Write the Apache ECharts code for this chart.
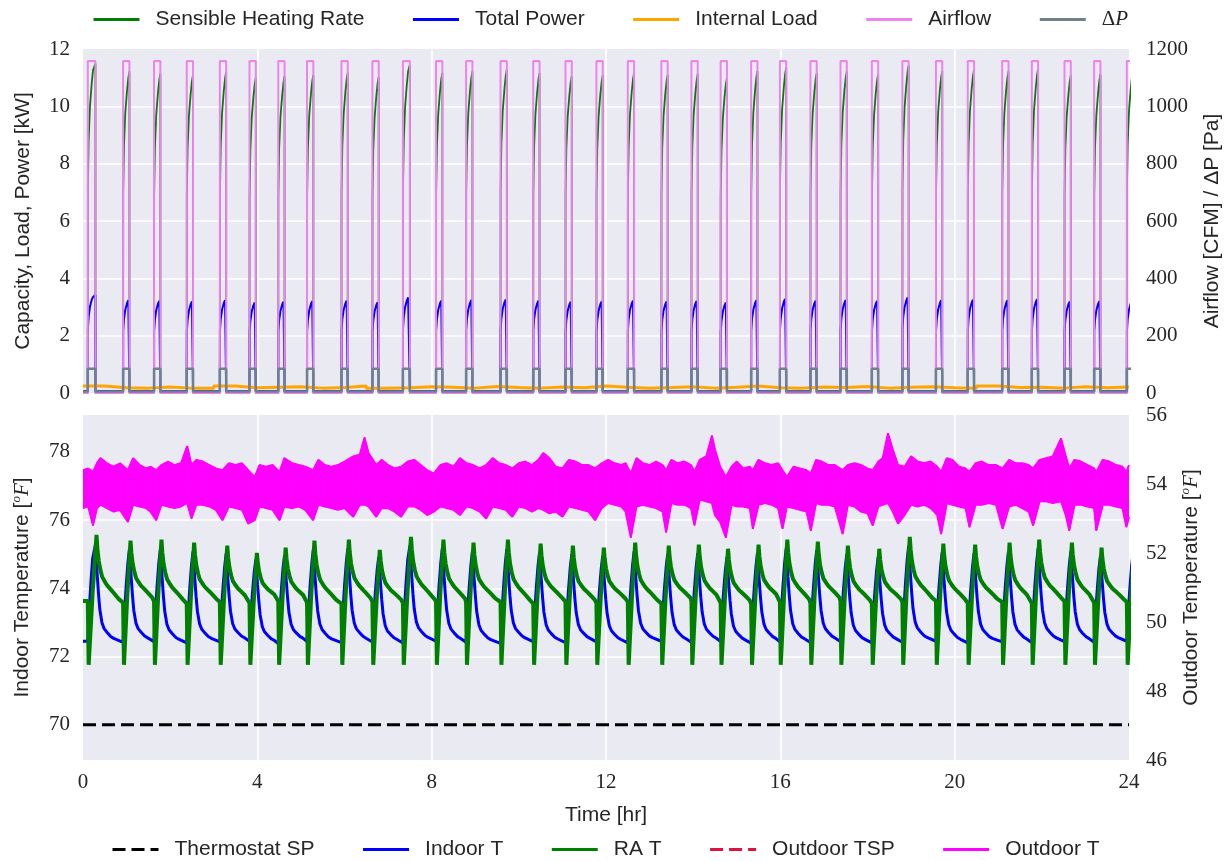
<!DOCTYPE html>
<html>
<head>
<meta charset="utf-8">
<script src="https://cdn.jsdelivr.net/npm/echarts@6/dist/echarts.min.js"></script>
<style>html,body{margin:0;padding:0;background:#fff}#chart{width:1231px;height:861px}</style>
</head>
<body>
<div id="chart"></div>
<script>
// ================= DATA =================
const hourTicks = [0, 4, 8, 12, 16, 20, 24];
const indoorTicks = [70, 72, 74, 76, 78];

// compressor/fan cycles: start time [hr], on duration [hr]
const cycleStart = [0.11,0.92,1.63,2.38,3.14,3.82,4.48,5.14,5.93,6.64,7.34,8.10,8.79,9.58,10.33,11.07,11.78,
                    12.50,13.27,13.96,14.63,15.33,15.99,16.69,17.38,18.10,18.80,19.57,20.30,21.09,21.77,22.52,23.20,23.95];
const cycleOn = [0.175,0.145,0.145,0.145,0.145,0.145,0.145,0.145,0.145,0.145,0.16,0.145,0.145,0.145,0.145,0.145,0.145,
                 0.145,0.145,0.145,0.145,0.145,0.145,0.145,0.145,0.145,0.145,0.145,0.145,0.145,0.145,0.145,0.145,0.145];
// peak values per cycle
const shrPeak = [11.49,11.22,11.14,11.10,11.20,10.99,11.05,11.10,11.17,11.02,11.45,11.17,11.22,11.29,11.16,11.06,11.08,
                 11.17,11.10,11.13,10.99,11.23,11.35,11.16,11.22,11.13,11.43,11.23,11.28,11.22,11.31,11.08,11.12,11.30];
const powerPeak = [3.42,3.30,3.28,3.26,3.30,3.22,3.25,3.27,3.29,3.23,3.40,3.29,3.31,3.33,3.29,3.25,3.26,
                   3.29,3.26,3.28,3.22,3.30,3.35,3.29,3.31,3.28,3.40,3.30,3.32,3.30,3.34,3.26,3.27,3.30];
const powerOff = 0.07;          // kW between cycles
const airflowOn = 1158;         // CFM
const dpOn = 85, dpOff = 5;     // Pa
// shape of the rise during the on-period: [hours after start, fraction of peak]
const shrShape = [[0.002,0.62],[0.02,0.77],[0.05,0.87],[0.09,0.94],[0.12,0.98]];
const powerShape = [[0.002,0.66],[0.02,0.78],[0.05,0.88],[0.09,0.95],[0.12,0.98]];

// internal load, every 0.5 h from 0 to 24 [kW]
const loadTime = [0,0.5,1,1.5,2,2.5,3,3.5,4,4.5,5,5.5,6,6.5,7,7.5,8,8.5,9,9.5,10,10.5,11,11.5,12,
                  12.5,13,13.5,14,14.5,15,15.5,16,16.5,17,17.5,18,18.5,19,19.5,20,20.5,21,21.5,22,22.5,23,23.5,24];
const loadKW = [0.24,0.18,0.17,0.21,0.17,0.17,0.24,0.18,0.20,0.22,0.17,0.19,0.24,0.17,0.18,0.22,0.20,0.17,0.23,0.19,0.17,0.21,0.18,0.24,0.20,
                0.17,0.19,0.22,0.17,0.20,0.24,0.18,0.17,0.21,0.19,0.23,0.17,0.20,0.22,0.18,0.17,0.24,0.19,0.20,0.17,0.22,0.18,0.21,0.20];

// indoor / return-air temperatures per cycle [F]
const indoorLow = [72.45,72.42,72.44,72.40,72.43,72.45,72.38,72.44,72.41,72.43,72.40,72.45,72.42,72.39,72.44,72.41,72.43,
                   72.40,72.45,72.42,72.44,72.39,72.43,72.41,72.44,72.40,72.42,72.45,72.40,72.43,72.41,72.44,72.42,72.45];
const indoorPeak = [75.28,75.15,75.15,75.08,75.02,74.85,74.98,75.14,75.16,74.92,75.25,75.17,75.08,75.16,75.05,75.00,74.95,
                    75.08,75.00,75.03,74.92,75.03,75.17,75.12,75.00,74.92,75.25,75.06,75.03,75.08,75.17,75.08,74.95,75.05];
const raLow = [73.63,73.58,73.62,73.55,73.60,73.57,73.62,73.58,73.55,73.60,73.56,73.63,73.58,73.60,73.55,73.61,73.57,
               73.60,73.56,73.62,73.58,73.55,73.60,73.57,73.62,73.56,73.59,73.63,73.57,73.60,73.56,73.62,73.58,73.60];
const raPeak = [75.57,75.40,75.43,75.34,75.25,75.04,75.19,75.40,75.43,75.13,75.51,75.43,75.34,75.43,75.31,75.25,75.19,
                75.34,75.25,75.28,75.16,75.28,75.43,75.37,75.25,75.16,75.51,75.31,75.28,75.34,75.43,75.34,75.19,75.30];
const raMin = 71.76;
const raDropLag = 0.02, raPeakLag = 0.025;
// shapes: [hours, fraction]
const indoorRise = [[0.03,0.30],[0.07,0.60],[0.11,0.85]];
const indoorDecay = [[0.02,0.85],[0.04,0.70],[0.07,0.50],[0.10,0.34],[0.15,0.20],[0.20,0.14],[0.27,0.10],[0.35,0.06],[0.42,0.04]];
const raRise = [[0.5,0.55]];
const raDecay = [[0.02,0.80],[0.05,0.62],[0.09,0.48],[0.13,0.38],[0.20,0.30],[0.25,0.25],[0.32,0.20],[0.40,0.14],[0.50,0.06]];

const thermostatSP = [[0,70],[24,70]];
const outdoorTSP = [[0,54],[24,54]];
// outdoor temperature noise band: [hr, upper F, lower F]
const outdoorTBand = [
[0.00,54.40,53.30],[0.12,54.45,53.35],[0.23,54.35,52.80],[0.32,54.60,53.30],[0.40,54.75,53.40],[0.55,54.60,53.30],[0.70,54.50,53.20],[0.85,54.60,53.25],
[1.03,54.40,52.90],[1.15,54.75,53.40],[1.30,54.55,53.35],[1.45,54.45,53.30],[1.55,54.50,53.20],[1.68,54.40,52.95],[1.80,54.55,53.40],[1.95,54.65,53.35],
[2.10,54.55,53.30],[2.25,54.60,53.35],[2.39,55.10,53.45],[2.49,54.55,53.00],[2.60,54.70,53.40],[2.75,54.65,53.40],[2.90,54.55,53.35],[3.05,54.45,53.25],
[3.20,54.40,52.95],[3.35,54.60,53.35],[3.50,54.55,53.30],[3.65,54.60,53.25],[3.79,54.40,52.85],[3.94,54.20,52.95],[4.05,54.55,53.35],[4.20,54.50,53.30],
[4.35,54.55,53.25],[4.51,54.35,52.95],[4.62,54.75,53.35],[4.80,54.60,53.30],[4.95,54.55,53.35],[5.10,54.50,53.25],[5.28,54.40,52.95],[5.40,54.70,53.40],
[5.55,54.55,53.35],[5.70,54.50,53.30],[5.85,54.55,53.25],[6.00,54.65,53.30],[6.20,54.80,53.05],[6.35,54.85,53.40],[6.46,55.35,53.40],[6.55,54.90,53.35],
[6.73,54.55,53.05],[6.85,54.70,53.30],[7.00,54.55,53.30],[7.15,54.45,53.20],[7.30,54.50,53.05],[7.45,54.65,53.35],[7.60,54.70,53.35],[7.75,54.55,53.25],
[7.90,54.40,53.10],[8.05,54.30,53.20],[8.20,54.55,53.35],[8.35,54.60,53.30],[8.50,54.50,53.25],[8.65,54.75,53.10],[8.80,54.60,53.35],[8.95,54.55,53.30],
[9.10,54.45,53.20],[9.25,54.55,53.00],[9.40,54.75,53.35],[9.55,54.60,53.30],[9.70,54.55,53.25],[9.85,54.45,53.05],[10.00,54.60,53.35],[10.15,54.65,53.30],
[10.30,54.55,53.20],[10.45,54.70,53.30],[10.56,54.90,53.25],[10.70,54.75,53.15],[10.85,54.50,53.20],[11.00,54.45,53.05],[11.15,54.70,53.35],[11.30,54.65,53.30],
[11.45,54.55,53.25],[11.60,54.55,53.20],[11.75,54.45,52.95],[11.90,54.60,53.30],
[12.05,54.70,53.45],[12.20,54.60,53.40],[12.35,54.55,53.35],[12.45,54.60,53.20],[12.57,54.30,52.45],[12.70,54.75,53.35],[12.85,54.60,53.40],[13.00,54.55,53.35],
[13.15,54.65,53.30],[13.30,54.55,53.20],[13.38,54.40,52.60],[13.50,54.70,53.45],[13.65,54.60,53.40],[13.80,54.65,53.40],[13.95,54.55,53.30],[14.03,54.35,52.80],
[14.15,54.70,53.55],[14.30,54.80,53.50],[14.43,55.40,53.45],[14.50,55.00,53.10],[14.62,54.50,52.90],[14.75,54.20,52.45],[14.88,54.50,53.40],[15.00,54.65,53.35],
[15.15,54.45,53.35],[15.30,54.50,53.30],[15.37,54.40,52.70],[15.50,54.70,53.40],[15.65,54.60,53.45],[15.80,54.55,53.40],[15.95,54.60,53.30],[16.05,54.40,52.70],
[16.15,54.20,53.35],[16.30,54.50,53.30],[16.45,54.45,53.25],[16.60,54.40,53.20],[16.70,54.30,52.65],[16.82,54.70,53.45],[16.95,54.65,53.40],[17.10,54.55,53.40],
[17.25,54.55,53.35],[17.43,54.40,52.55],[17.55,54.55,53.40],[17.70,54.60,53.35],[17.85,54.55,53.20],[18.00,54.45,53.15],[18.12,54.40,52.80],[18.25,54.65,53.35],
[18.35,54.75,53.40],[18.47,55.47,53.45],[18.58,55.00,53.20],[18.70,54.55,52.85],[18.85,54.50,53.10],[19.00,54.80,53.40],[19.15,54.65,53.35],[19.30,54.60,53.40],
[19.45,54.65,53.30],[19.60,54.50,53.10],[19.69,54.35,52.55],[19.82,54.75,53.45],[19.95,54.70,53.40],[20.10,54.50,53.35],[20.25,54.45,53.30],[20.34,54.35,52.75],
[20.48,54.60,53.40],[20.62,54.65,53.40],[20.78,54.55,53.45],[20.95,54.55,53.40],[21.10,54.45,52.70],[21.25,54.70,53.35],[21.40,54.60,53.40],[21.55,54.60,53.30],
[21.70,54.55,53.20],[21.80,54.45,52.80],[21.95,54.70,53.50],[22.10,54.75,53.50],[22.25,54.80,53.45],[22.44,55.32,53.50],[22.55,54.80,53.10],[22.63,54.45,52.65],
[22.75,54.70,53.40],[22.90,54.65,53.40],[23.05,54.55,53.35],[23.20,54.45,53.30],[23.25,54.35,52.65],[23.40,54.70,53.40],[23.55,54.65,53.40],[23.70,54.55,53.35],
[23.85,54.50,53.30],[23.94,54.35,52.75],[24.00,54.55,53.05]
];

// ================= BUILD SERIES DATA =================
const N = cycleStart.length;
function nextStart(i){ return i + 1 < N ? cycleStart[i+1] : 30; }

function buildPulse(shape, peaks, off){
  const pts = [[0, off]];
  cycleStart.forEach((s, i) => {
    const d = cycleOn[i], p = peaks[i];
    pts.push([s, off]);
    shape.forEach(([tau, f]) => { if (tau < d) pts.push([s + tau, p * f]); });
    pts.push([s + d, p]);
    pts.push([s + d, off]);
  });
  return pts;
}
function buildRect(on, off){
  const pts = [[0, off]];
  cycleStart.forEach((s, i) => {
    const d = cycleOn[i];
    pts.push([s, off], [s, on], [s + d, on], [s + d, off]);
  });
  return pts;
}
function buildIndoor(){
  const pts = [[0, indoorLow[0]]];
  cycleStart.forEach((s, i) => {
    const d = cycleOn[i], low = indoorLow[i], pk = indoorPeak[i];
    const nx = nextStart(i), lowN = i + 1 < N ? indoorLow[i+1] : low;
    pts.push([s, low]);
    indoorRise.forEach(([tau, f]) => { if (tau < d) pts.push([s + tau, low + (pk - low) * f]); });
    pts.push([s + d, pk]);
    indoorDecay.forEach(([tau, f]) => { if (s + d + tau < nx - 0.01) pts.push([s + d + tau, lowN + (pk - lowN) * f]); });
  });
  return pts;
}
function buildRA(){
  const pts = [[0, raLow[0]]];
  cycleStart.forEach((s, i) => {
    const d = cycleOn[i], low = raLow[i], pk = raPeak[i];
    const nx = nextStart(i), lowN = i + 1 < N ? raLow[i+1] : low;
    const tMin = s + raDropLag, tPk = s + d + raPeakLag;
    pts.push([s, low], [tMin, raMin]);
    raRise.forEach(([f, v]) => pts.push([tMin + (tPk - tMin) * f, raMin + (pk - raMin) * v]));
    pts.push([tPk, pk]);
    raDecay.forEach(([tau, f]) => { if (tPk + tau < nx - 0.01) pts.push([tPk + tau, lowN + (pk - lowN) * f]); });
  });
  return pts;
}

// ================= CHART =================
const SANS = 'Liberation Sans', SERIF = 'Liberation Serif', TXT = '#262626', BG = '#EAEAF2';
const tickFont = { fontFamily: SERIF, fontSize: 21, color: TXT };
const nameFont = { fontFamily: SANS, fontSize: 21, color: TXT };
const supRich = {
  s: { fontFamily: SERIF, fontStyle: 'italic', fontSize: 13, color: TXT, verticalAlign: 'top', lineHeight: 24 },
  i: { fontFamily: SERIF, fontStyle: 'italic', fontSize: 21, color: TXT, lineHeight: 24 }
};
const whiteSplit = { show: true, showMinLine: false, showMaxLine: false, lineStyle: { color: '#ffffff', width: 1.6 } };
const plainNum = v => String(v);

function line(name, xi, yi, data, color, width, extra){
  return Object.assign({
    name, type: 'line', xAxisIndex: xi, yAxisIndex: yi, data,
    symbol: 'none', showSymbol: false, silent: true, clip: true,
    lineStyle: { color, width }, itemStyle: { color }
  }, extra || {});
}

const loadData = loadTime.map((t, k) => [t, loadKW[k]]);
const bandHigh = outdoorTBand.map(r => [r[0], r[1]]);
const bandLow = outdoorTBand.map(r => [r[0], r[2]]);
const bandSegs = outdoorTBand.slice(0, -1).map((r, k) => {
  const q = outdoorTBand[k + 1];
  return [r[0], r[1], r[2], q[0], q[1], q[2]];
});

const legendCommon = {
  orient: 'horizontal', itemWidth: 46, itemHeight: 14, itemGap: 47, padding: 0,
  textStyle: { fontFamily: SANS, fontSize: 21, color: TXT, padding: [0, 0, 0, 11],
    rich: { d: { fontFamily: SERIF, fontSize: 21, color: TXT }, p: { fontFamily: SERIF, fontStyle: 'italic', fontSize: 21, color: TXT } } },
  lineStyle: { width: 3 },
  itemStyle: { opacity: 0 },
  selectedMode: false
};

const chart = echarts.init(document.getElementById('chart'), null, { renderer: 'canvas' });
chart.setOption({
  animation: false,
  backgroundColor: '#ffffff',
  grid: [
    { left: 83, right: 102, top: 49, height: 344, show: true, backgroundColor: BG, borderWidth: 0, outerBoundsMode: 'none' },
    { left: 83, right: 102, top: 415, height: 345, show: true, backgroundColor: BG, borderWidth: 0, outerBoundsMode: 'none' }
  ],
  legend: [
    Object.assign({}, legendCommon, { top: 9, left: 92,
      data: ['Sensible Heating Rate', 'Total Power', 'Internal Load', 'Airflow', 'ΔP'],
      formatter: n => n === 'ΔP' ? '{d|Δ}{p|P}' : n }),
    Object.assign({}, legendCommon, { top: 839, left: 111,
      data: ['Thermostat SP', 'Indoor T', 'RA T', 'Outdoor TSP', 'Outdoor T'] })
  ],
  xAxis: [
    { gridIndex: 0, type: 'value', min: hourTicks[0], max: hourTicks[hourTicks.length-1], interval: 4,
      axisLine: { show: false }, axisTick: { show: false }, axisLabel: { show: false }, splitLine: whiteSplit },
    { gridIndex: 1, type: 'value', min: hourTicks[0], max: hourTicks[hourTicks.length-1], interval: 4,
      axisLine: { show: false }, axisTick: { show: false },
      axisLabel: Object.assign({ margin: 12, formatter: plainNum }, tickFont), splitLine: whiteSplit,
      name: 'Time [hr]', nameLocation: 'middle', nameGap: 45, nameTextStyle: nameFont }
  ],
  yAxis: [
    { gridIndex: 0, type: 'value', position: 'left', min: 0, max: 12, interval: 2,
      axisLine: { show: false }, axisTick: { show: false }, axisLabel: Object.assign({ margin: 13, formatter: plainNum }, tickFont),
      splitLine: whiteSplit,
      name: 'Capacity, Load, Power [kW]', nameLocation: 'middle', nameGap: 49, nameTextStyle: nameFont },
    { gridIndex: 0, type: 'value', position: 'right', min: 0, max: 1200, interval: 200,
      axisLine: { show: false }, axisTick: { show: false }, axisLabel: Object.assign({ margin: 17, formatter: plainNum }, tickFont),
      splitLine: { show: false },
      name: 'Airflow [CFM] / ΔP [Pa]', nameLocation: 'middle', nameGap: 73, nameTextStyle: nameFont },
    { gridIndex: 1, type: 'value', position: 'left', min: 68.97, max: 79.08,
      axisLine: { show: false }, axisTick: { show: false, customValues: indoorTicks },
      axisLabel: Object.assign({ margin: 13, customValues: indoorTicks, formatter: plainNum }, tickFont),
      splitLine: whiteSplit,
      name: 'Indoor Temperature [{s|o}{i|F}]', nameLocation: 'middle', nameGap: 49,
      nameTextStyle: Object.assign({ rich: supRich, lineHeight: 24 }, nameFont) },
    { gridIndex: 1, type: 'value', position: 'right', min: 46, max: 56, interval: 2,
      axisLine: { show: false }, axisTick: { show: false }, axisLabel: Object.assign({ margin: 17, formatter: plainNum }, tickFont),
      splitLine: { show: false },
      name: 'Outdoor Temperature [{s|o}{i|F}]', nameLocation: 'middle', nameGap: 50,
      nameTextStyle: Object.assign({ rich: supRich, lineHeight: 24 }, nameFont) }
  ],
  series: [
    line('Sensible Heating Rate', 0, 0, buildPulse(shrShape, shrPeak, 0), '#008000', 1.8),
    line('Total Power', 0, 0, buildPulse(powerShape, powerPeak, powerOff), '#0000FF', 2),
    line('Internal Load', 0, 0, loadData, '#FFA500', 3, { step: 'end' }),
    line('Airflow', 0, 1, buildRect(airflowOn, 0), '#EE82EE', 2),
    line('ΔP', 0, 1, buildRect(dpOn, dpOff), '#708090', 2.5),

    line('Thermostat SP', 1, 2, thermostatSP, '#000000', 3, { lineStyle: { color: '#000000', width: 3, type: [13, 6] } }),
    line('Indoor T', 1, 2, buildIndoor(), '#0000FF', 3),
    line('RA T', 1, 2, buildRA(), '#008000', 4),
    line('Outdoor TSP', 1, 3, outdoorTSP, '#DC143C', 3, { z: 1, lineStyle: { color: '#DC143C', width: 3, type: [13, 6] } }),
    {
      name: 'Outdoor T band', type: 'custom', xAxisIndex: 1, yAxisIndex: 3, silent: true, clip: true, z: 3,
      data: bandSegs,
      encode: { x: [0, 3], y: [1, 2, 4, 5] },
      renderItem: function (params, api) {
        const a = api.coord([api.value(0), api.value(1)]);
        const b = api.coord([api.value(3), api.value(4)]);
        const c = api.coord([api.value(3), api.value(5)]);
        const d = api.coord([api.value(0), api.value(2)]);
        return { type: 'polygon', shape: { points: [a, b, c, d] },
                 style: { fill: '#FF00FF', stroke: '#FF00FF', lineWidth: 1 } };
      }
    },
    line('Outdoor T lower', 1, 3, bandLow, '#FF00FF', 2, { z: 3 }),
    line('Outdoor T', 1, 3, bandHigh, '#FF00FF', 2, { z: 3 })
  ]
});
</script>
</body>
</html>
